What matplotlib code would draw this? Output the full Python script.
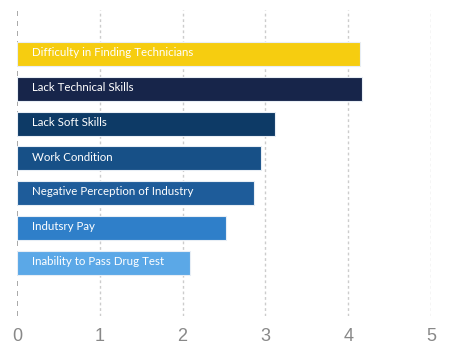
import matplotlib.pyplot as plt

# Reasons and average scores
reasons = ['Difficulty in Finding Technicians', 'Lack Technical Skills', 'Lack Soft Skills',
           'Work Condition', 'Negative Perception of Industry', 'Indutsry Pay',
           'Inability to Pass Drug Test']
scores = [4.14, 4.17, 3.11, 2.95, 2.86, 2.52, 2.09]
colors = ['#F6CD10', '#17254A', '#0D3A66', '#175087', '#1E5C9A', '#2F7FC9', '#5BA8E7']
ticks = [0, 1, 2, 3, 4, 5]

fig = plt.figure(figsize=(4.51, 3.49), dpi=100)
ax = fig.add_axes([0.0377, 0.0946, 0.918, 0.877])

pos = list(range(len(reasons)))
ax.barh(pos, scores, height=0.69, color=colors, edgecolor='#e8eef5', linewidth=0.8, zorder=3)
for y, name in zip(pos, reasons):
    ax.text(0.18, y - 0.04, name, color='white', fontsize=8.3, family='Lato',
            va='center', ha='left', zorder=4)

# vertical grid lines
for t in ticks:
    if t == 0:
        ax.axvline(t, color='#999999', lw=1.2, ls=(0, (3, 3)), zorder=1)
    else:
        ax.axvline(t, color='#cccccc', lw=1.0, ls=(0, (2, 2)), zorder=1)

ax.set_xlim(0, 5)
ax.set_ylim(7.52, -1.26)
ax.set_xticks(ticks)
ax.set_yticks([])
ax.tick_params(axis='x', length=0, pad=9, labelsize=13, labelcolor='#888888')
for lbl in ax.get_xticklabels():
    lbl.set_family('Liberation Sans')
for s in ax.spines.values():
    s.set_visible(False)

fig.savefig('out.png', dpi=100)
